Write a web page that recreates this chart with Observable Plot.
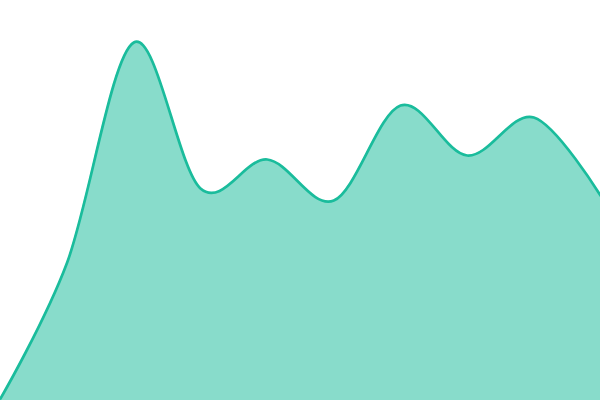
<!DOCTYPE html>
<html>
<head>
<meta charset="utf-8">
<script src="https://cdn.jsdelivr.net/npm/d3@7"></script>
<script src="https://cdn.jsdelivr.net/npm/@observablehq/plot@0.6"></script>
<style>
  html, body { margin: 0; padding: 0; background: #fff; }
  #chart svg { display: block; }
</style>
</head>
<body>
<div id="chart"></div>
<script>
const steps = [0, 1, 2, 3, 4, 5, 6, 7, 8, 9];
const values = [2, 138, 358, 212, 241, 200, 295, 245, 283, 205];

const data = steps.map((s, i) => ({step: s, value: values[i]}));

const chart = Plot.plot({
  width: 600,
  height: 400,
  margin: 0,
  x: {domain: [0, 9], axis: null},
  y: {domain: [0, 400], axis: null},
  marks: [
    Plot.areaY(data, {x: "step", y: "value", curve: "cardinal", fill: "#1abc9c", fillOpacity: 0.52}),
    Plot.lineY(data, {x: "step", y: "value", curve: "cardinal", stroke: "#1abc9c", strokeWidth: 2.7})
  ]
});
document.getElementById("chart").appendChild(chart);
</script>
</body>
</html>
